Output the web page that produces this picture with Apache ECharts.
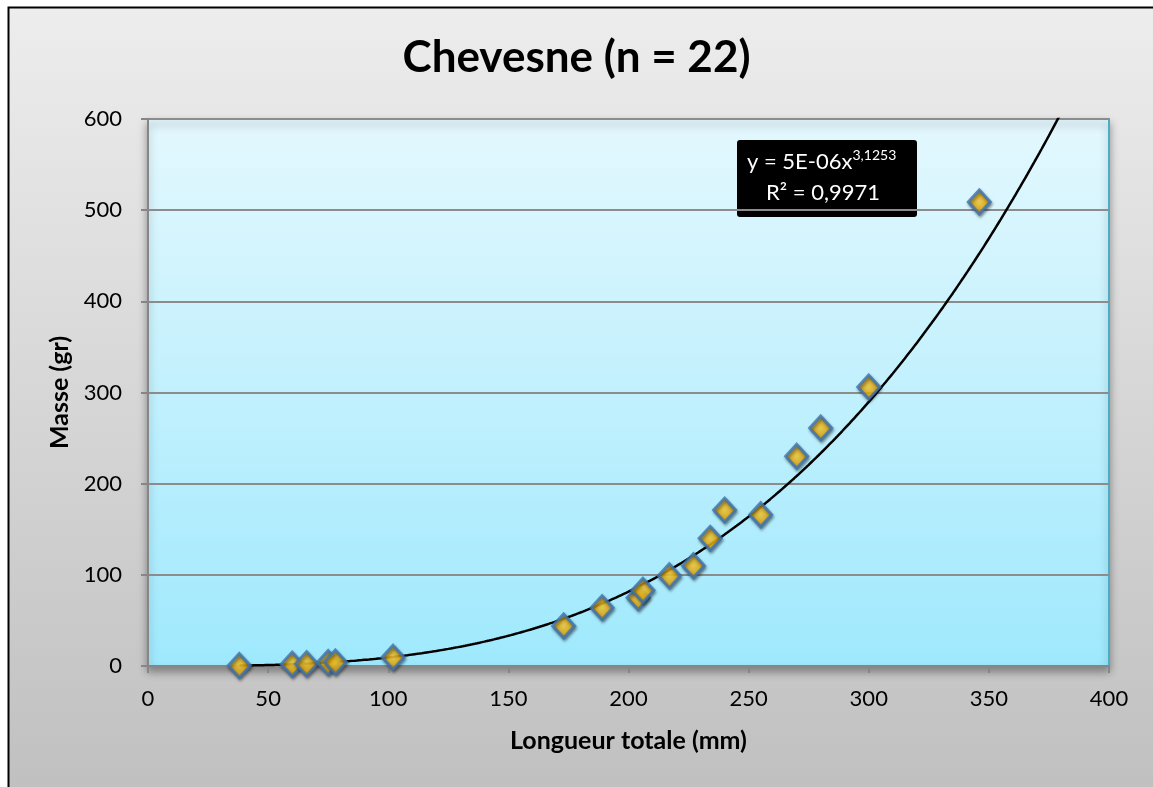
<!DOCTYPE html>
<html><head><meta charset="utf-8">
<script src="https://cdn.jsdelivr.net/npm/echarts@6/dist/echarts.min.js"></script>
<style>html,body{margin:0;padding:0;background:#fff}#c{width:1153px;height:787px}</style>
</head><body><div id="c"></div>
<script>
const title = 'Chevesne (n = 22)';
const xName = 'Longueur totale (mm)';
const yName = 'Masse (gr)';
const lengths = [38, 60, 66, 75, 78, 102, 173, 189, 204, 206, 217, 227, 234, 240, 255, 270, 280, 300, 346];
const masses  = [0.5, 2, 2.5, 3.8, 4.3, 9.5, 44, 64, 75, 83, 99, 110, 140, 171, 166, 230, 261, 306, 509];
const trendA = 5.25e-6;
const trendB = 3.1253;
const trendLabel = ['y = 5E-06x', '3,1253', 'R² = 0,9971'];
const xTicks = [0, 50, 100, 150, 200, 250, 300, 350, 400];
const yTicks = [0, 100, 200, 300, 400, 500, 600];

const pts = lengths.map((x, i) => [x, masses[i]]);
const trend = [];
for (let x = Math.min(...lengths); x <= 385; x += 1) trend.push([x, trendA * Math.pow(x, trendB)]);

const FONT = 'Lato';
const chart = echarts.init(document.getElementById('c'));
chart.setOption({
  animation: false,
  backgroundColor: 'transparent',
  graphic: [
    { type: 'rect', z: -10, shape: { x: 8.5, y: 7.5, width: 1160, height: 800 },
      style: { fill: new echarts.graphic.LinearGradient(0,0,0,1,[{offset:0,color:'#ededed'},{offset:1,color:'#bfbfbf'}]), stroke: '#000', lineWidth: 2 } },
    { type: 'rect', z: -5, shape: { x: 148, y: 119, width: 961, height: 547 },
      style: { fill: new echarts.graphic.LinearGradient(0,0,0,1,[{offset:0,color:'#e4f8fe'},{offset:1,color:'#9fe9fd'}]), stroke: '#4bacc6', lineWidth: 2,
        shadowBlur: 8, shadowOffsetY: 5, shadowColor: 'rgba(0,0,0,0.35)' } },
    { type: 'group', left: 737, top: 140, z: 100, children: [
      { type: 'rect', shape: { x: 0, y: 0, width: 180, height: 77, r: 3 }, style: { fill: '#000' } },
      { type: 'text', left: 10, top: 8, style: { text: '{a|' + trendLabel[0] + '}{s|' + trendLabel[1] + '}', rich: {
          a: { fill: '#fff', fontSize: 22, fontFamily: FONT, verticalAlign: 'bottom' },
          s: { fill: '#fff', fontSize: 14, fontFamily: FONT, verticalAlign: 'top', padding: [0,0,11,0] } } } },
      { type: 'text', left: 29, top: 42, style: { text: trendLabel[2], fill: '#fff', fontSize: 22, fontFamily: FONT } }
    ]}
  ],
  title: { text: title, left: 'center', top: 31, textStyle: { fontFamily: FONT, fontSize: 44, fontWeight: 'bold', color: '#000' } },
  grid: { left: 148, right: 44, top: 119, bottom: 121 },
  xAxis: {
    type: 'value', min: 0, max: 400, interval: 50,
    name: xName, nameLocation: 'middle', nameGap: 62,
    nameTextStyle: { fontFamily: FONT, fontSize: 25, fontWeight: 'bold', color: '#000' },
    axisLine: { show: true, lineStyle: { color: '#868686', width: 2 } },
    axisTick: { show: true, length: 7, lineStyle: { color: '#868686', width: 2 } },
    axisLabel: { fontFamily: FONT, fontSize: 22, color: '#000', margin: 22 },
    splitLine: { show: false }
  },
  yAxis: {
    type: 'value', min: 0, max: 600, interval: 100,
    name: yName, nameLocation: 'middle', nameGap: 76, nameRotate: 90,
    nameTextStyle: { fontFamily: FONT, fontSize: 25, fontWeight: 'bold', color: '#000' },
    axisLine: { show: true, lineStyle: { color: '#868686', width: 2 } },
    axisTick: { show: true, length: 7, lineStyle: { color: '#868686', width: 2 } },
    axisLabel: { fontFamily: FONT, fontSize: 22, color: '#000', margin: 26 },
    splitLine: { show: true, lineStyle: { color: '#8c8c8c', width: 2 } }
  },
  series: [
    { type: 'line', data: trend, showSymbol: false, symbol: 'none', clip: true, z: 3,
      lineStyle: { color: '#000', width: 2.5 } },
    { type: 'scatter', data: pts, symbol: 'diamond', symbolSize: [22, 24], z: 5,
      itemStyle: {
        color: new echarts.graphic.RadialGradient(0.5,0.5,0.6,[{offset:0,color:'#ffd43a'},{offset:0.6,color:'#e8a600'},{offset:1,color:'#a87000'}]),
        borderColor: '#3f74b0', borderWidth: 3,
        shadowBlur: 3, shadowOffsetX: 1, shadowOffsetY: 2, shadowColor: 'rgba(0,0,0,0.45)' } }
  ]
});
</script></body></html>
